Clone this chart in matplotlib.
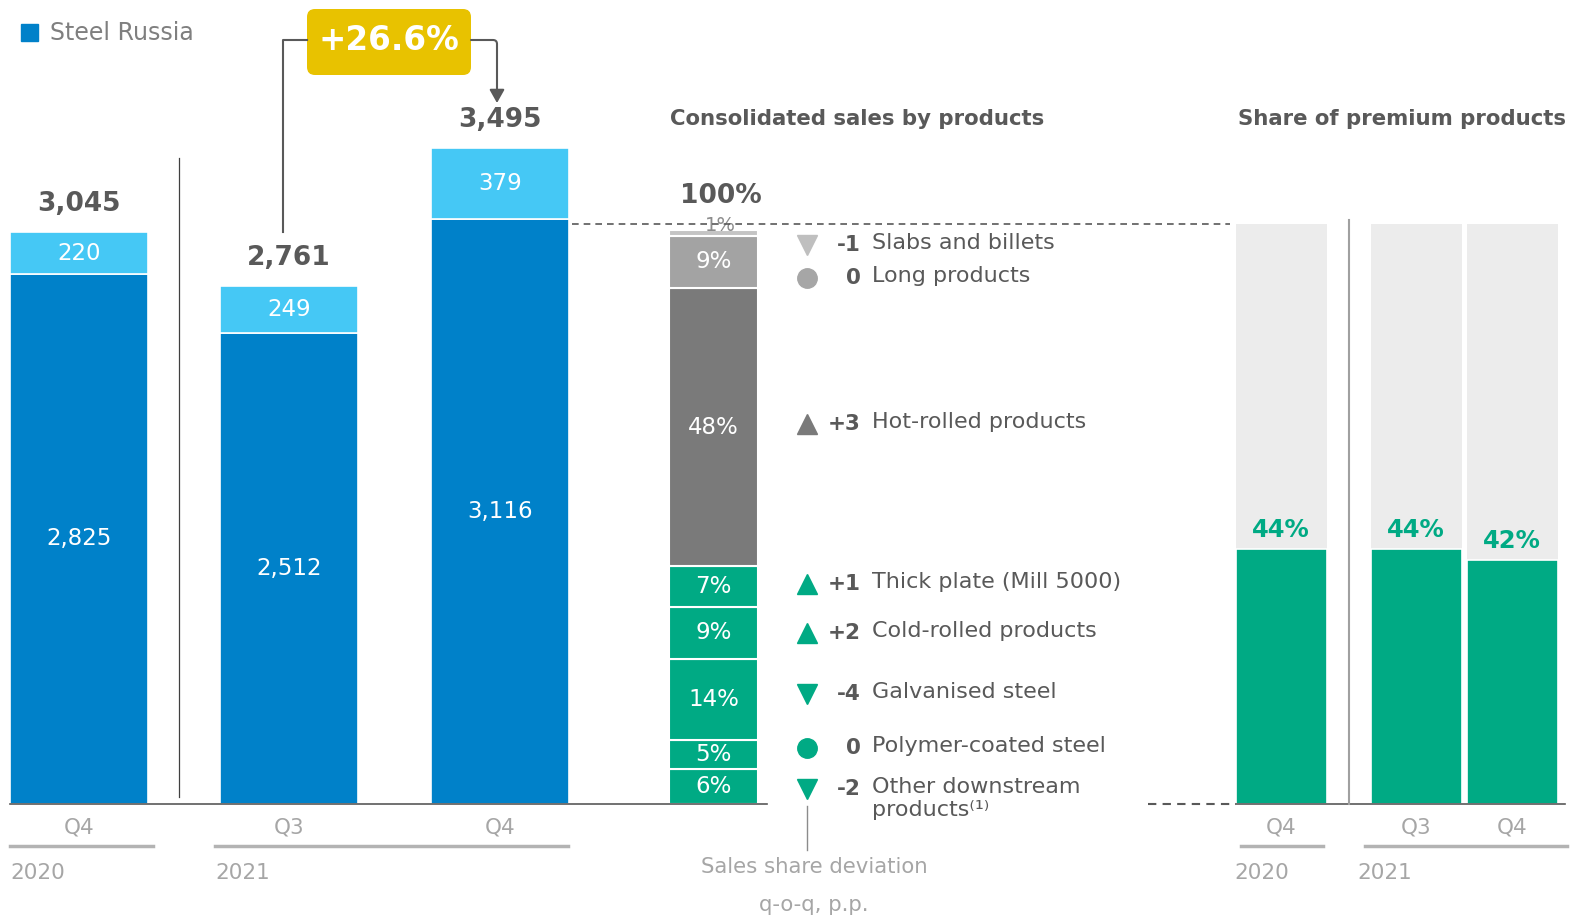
import matplotlib
matplotlib.use("Agg")
import matplotlib.pyplot as plt
from matplotlib.patches import FancyBboxPatch

W, H = 1577, 921

# --- data ---
periods = ["Q4", "Q3", "Q4"]
years = ["2020", "2021"]
steel_base = [2825, 2512, 3116]
steel_top = [220, 249, 379]
growth_label = "+26.6%"

products = ["Slabs and billets", "Long products", "Hot-rolled products",
            "Thick plate (Mill 5000)", "Cold-rolled products", "Galvanised steel",
            "Polymer-coated steel", "Other downstream\nproducts⁽¹⁾"]
product_share = [1, 9, 48, 7, 9, 14, 5, 6]
product_dev = ["-1", "0", "+3", "+1", "+2", "-4", "0", "-2"]
product_marker = ["v", "o", "^", "^", "^", "v", "o", "v"]

premium_share = [44, 44, 42]

# --- style ---
BLUE = "#0081c9"
LBLUE = "#45c8f5"
GREEN = "#00aa84"
DARK = "#595959"
LIGHT = "#a6a6a6"
seg_colors = ["#c4c4c4", "#a3a3a3", "#7a7a7a"] + [GREEN] * 5
mark_colors = ["#bfbfbf", "#a6a6a6", "#7a7a7a"] + [GREEN] * 5

plt.rcParams["font.family"] = ["DejaVu Sans"]

fig = plt.figure(figsize=(W / 100, H / 100), dpi=100)


def px_axes(x0, x1, y0, y1):
    """Axes placed by pixel box (y measured from the top)."""
    return fig.add_axes([x0 / W, 1 - y1 / H, (x1 - x0) / W, (y1 - y0) / H])


BASE_Y = 804

# --- left panel: Steel Russia sales ---
ax1 = px_axes(0, 660, 0, BASE_Y)
k = 656 / 3495  # px per kt
ax1.set_xlim(0, 660)
ax1.set_ylim(0, BASE_Y / k)
ax1.axis("off")
xs = [79, 289, 500]
bw = 138
ax1.bar(xs, steel_base, width=bw, color=BLUE, edgecolor="white", linewidth=1.2)
ax1.bar(xs, steel_top, bottom=steel_base, width=bw, color=LBLUE,
        edgecolor="white", linewidth=1.2)
for x, b, t in zip(xs, steel_base, steel_top):
    ax1.text(x, b / 2, f"{b:,}", color="white", fontsize=16.5, ha="center", va="center")
    ax1.text(x, b + t / 2, f"{t:,}", color="white", fontsize=16.5, ha="center", va="center")
    ax1.text(x, b + t + 28 / k, f"{b + t:,}", color=DARK, fontsize=19,
             fontweight="bold", ha="center", va="center")

# --- middle panel: consolidated sales by products ---
s = 5.8  # px per percent
ax2 = px_axes(663.5, 763.5, 0, BASE_Y)
ax2.set_xlim(-0.5, 0.5)
ax2.set_ylim(0, BASE_Y / s)
ax2.axis("off")
bottom = 0
seg_mid = []
for v, c in zip(reversed(product_share), reversed(seg_colors)):
    ax2.bar(0, v, bottom=bottom, width=0.89, color=c, edgecolor="white", linewidth=1.5)
    seg_mid.append(bottom + v / 2)
    bottom += v
seg_mid = seg_mid[::-1]
for v, m in zip(product_share, seg_mid):
    if v > 1:
        ax2.text(0, m, f"{v}%", color="white", fontsize=16.5, ha="center", va="center")
    else:
        ax2.text(0.07, bottom + 0.8, f"{v}%", color="#8c8c8c", fontsize=14,
                 ha="center", va="center")
ax2.text(0.07, 100 + 28 / s, "100%", color=DARK, fontsize=19, fontweight="bold",
         ha="center", va="center")

# --- right panel: share of premium products ---
ax3 = px_axes(1200, W, 0, BASE_Y)
ax3.set_xlim(1200, W)
ax3.set_ylim(0, BASE_Y / s)
ax3.axis("off")
rx = [1281, 1416, 1512]
ax3.bar(rx, [100] * 3, width=91, color="#ececec", linewidth=0)
ax3.bar(rx, premium_share, width=91, color=GREEN, edgecolor="white", linewidth=1.2)
for x, v in zip(rx, premium_share):
    ax3.text(x, v + 3.3, f"{v}%", color=GREEN, fontsize=17.5, fontweight="bold",
             ha="center", va="center")

# --- overlay for lines, legend and captions ---
ov = fig.add_axes([0, 0, 1, 1])
ov.set_xlim(0, W)
ov.set_ylim(H, 0)
ov.axis("off")
ov.patch.set_alpha(0)

# legend
ov.add_patch(plt.Rectangle((21, 24), 17, 17, color=BLUE))
ov.text(50, 33, "Steel Russia", color="#7f7f7f", fontsize=17, va="center")

# baselines and separators
ov.plot([10, 767], [BASE_Y, BASE_Y], color="#595959", lw=1.2)
ov.plot([1148, 1236], [BASE_Y, BASE_Y], color="#595959", lw=1.5, ls=(0, (4, 3)))
ov.plot([1236, 1565], [BASE_Y, BASE_Y], color="#595959", lw=1.2)
ov.plot([572, 1230], [224, 224], color="#595959", lw=1.2, ls=(0, (4, 3)))
ov.plot([179, 179], [158, 797], color="#404040", lw=0.9)
ov.plot([1349, 1349], [220, BASE_Y], color="#a0a0a0", lw=1.5)
ov.plot([807, 807], [806, 850], color="#8c8c8c", lw=1)

# growth callout
ov.plot([283, 283, 307], [232, 40, 40], color="#595959", lw=1.5)
ov.annotate("", xy=(497, 103), xytext=(471, 40),
            arrowprops=dict(arrowstyle="-|>,head_width=0.45,head_length=0.8",
                            connectionstyle="angle,angleA=0,angleB=90,rad=4",
                            color="#595959", lw=1.5, shrinkA=0, shrinkB=0))
ov.add_patch(FancyBboxPatch((311, 13), 156, 58, boxstyle="round,pad=4,rounding_size=8",
                            facecolor="#e8c200", edgecolor="none"))
ov.text(389, 40, growth_label, color="white", fontsize=23.5, fontweight="bold",
        ha="center", va="center")

# section titles
ov.text(857, 119, "Consolidated sales by products", color=DARK, fontsize=15.3,
        fontweight="bold", ha="center", va="center")
ov.text(1566, 119, "Share of premium products", color=DARK, fontsize=15.3,
        fontweight="bold", ha="right", va="center")

# product legend with q-o-q deviations
row_y = [245, 278, 424, 584, 633, 694, 748, 789]
for name, dev, mk, mc, y in zip(products, product_dev, product_marker, mark_colors, row_y):
    ov.plot(807, y, marker=mk, color=mc, markersize=15 if mk != "o" else 14, ls="none")
    ov.text(861, y, dev, color=DARK, fontsize=15.5, fontweight="bold", ha="right", va="center")
    ov.text(872, y - 12, name, color=DARK, fontsize=16, ha="left", va="top",
            linespacing=1.2)

ov.text(814, 867, "Sales share deviation", color=LIGHT, fontsize=15.3, ha="center", va="center")
ov.text(814, 905, "q-o-q, p.p.", color=LIGHT, fontsize=15.3, ha="center", va="center")

# period axis labels
for x, p in zip(xs + rx, periods + periods):
    ov.text(x, 827, p, color=LIGHT, fontsize=15.5, ha="center", va="center")
for (a, b), yr, xt in zip([(10, 153), (215, 568)], years, [10, 215]):
    ov.plot([a, b], [846, 846], color="#b3b3b3", lw=2.5)
    ov.text(xt, 873, yr, color=LIGHT, fontsize=15.5, ha="left", va="center")
for (a, b), yr, xt in zip([(1241, 1323), (1365, 1567)], years, [1234, 1357]):
    ov.plot([a, b], [846, 846], color="#b3b3b3", lw=2.5)
    ov.text(xt, 873, yr, color=LIGHT, fontsize=15.5, ha="left", va="center")

fig.savefig("out.png", dpi=100)
